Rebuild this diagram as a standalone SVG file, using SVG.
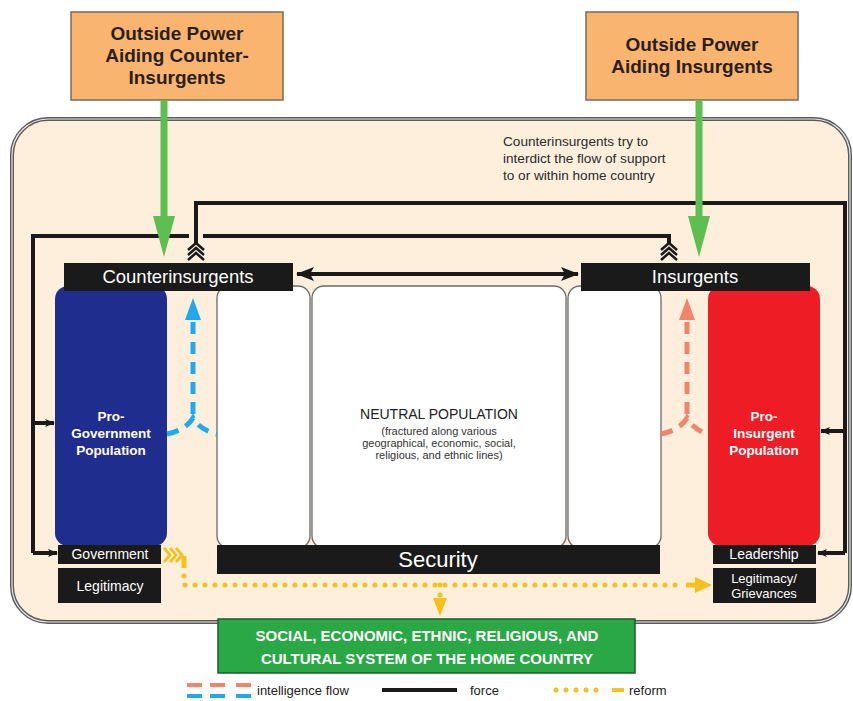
<svg xmlns="http://www.w3.org/2000/svg" width="853" height="701" viewBox="0 0 853 701">
<style>
text{font-family:"Liberation Sans",Arial,sans-serif}
.w{fill:#fff}
.blk{fill:#1a1a1a}
.force{fill:none;stroke:#1a1a1a;stroke-width:4}
.chev{fill:none;stroke:#1a1a1a;stroke-width:2.5}
.ylw{fill:none;stroke:#f5c21b;stroke-width:5;stroke-linecap:round;stroke-dasharray:0 10}
.col{fill:#fff;stroke:#6b6b6b;stroke-width:1.3}
.blue{fill:none;stroke:#1fa9ee;stroke-width:5;stroke-dasharray:12 8}
.sal{fill:none;stroke:#f2846a;stroke-width:5;stroke-dasharray:12 8}
.ob{fill:#f9b470;stroke:#7d6a58;stroke-width:1.5}
.obt{font-size:19px;font-weight:bold;fill:#2a1f1a;text-anchor:middle}
</style>
<defs>
<marker id="ah" markerWidth="10" markerHeight="8" refX="9" refY="4" orient="auto" markerUnits="userSpaceOnUse">
<path d="M0,0 L10,4 L0,8 L2.5,4 Z" fill="#1a1a1a"/>
</marker>
<marker id="ahb" markerWidth="18" markerHeight="14" refX="17" refY="7" orient="auto-start-reverse" markerUnits="userSpaceOnUse">
<path d="M0,0 L18,7 L0,14 L4,7 Z" fill="#1a1a1a"/>
</marker>
</defs>

<rect x="0" y="0" width="853" height="701" fill="#fff"/>

<g id="frame">
<rect x="12" y="119" width="838" height="503" rx="36" fill="#fdefdc" stroke="#5a5a5a" stroke-width="4"/>
<rect x="12" y="119" width="838" height="503" rx="36" fill="none" stroke="#e8e8e8" stroke-width="1.2"/>
</g>

<g id="outside-counter">
<rect class="ob" x="71" y="12" width="212" height="88"/>
<text class="obt" x="177" y="40">Outside Power</text>
<text class="obt" x="177" y="62">Aiding Counter-</text>
<text class="obt" x="177" y="84">Insurgents</text>
</g>

<g id="outside-insurgents">
<rect class="ob" x="586" y="12" width="212" height="88"/>
<text class="obt" x="692" y="51">Outside Power</text>
<text class="obt" x="692" y="73">Aiding Insurgents</text>
</g>

<g id="note">
<text x="503" y="146" font-size="13.6" fill="#2b2b2b">Counterinsurgents try to</text>
<text x="503" y="163" font-size="13.6" fill="#2b2b2b">interdict the flow of support</text>
<text x="503" y="180" font-size="13.6" fill="#2b2b2b">to or within home country</text>
</g>

<g id="neutral">
<rect class="col" x="217" y="286" width="93" height="262" rx="12"/>
<rect class="col" x="312" y="286" width="254" height="262" rx="12"/>
<rect class="col" x="568" y="286" width="93" height="262" rx="12"/>
<text x="439" y="419" font-size="14" fill="#222" text-anchor="middle">NEUTRAL POPULATION</text>
<text x="439" y="435" font-size="11" fill="#333" text-anchor="middle">(fractured along various</text>
<text x="439" y="447" font-size="11" fill="#333" text-anchor="middle">geographical, economic, social,</text>
<text x="439" y="459" font-size="11" fill="#333" text-anchor="middle">religious, and ethnic lines)</text>
</g>

<g id="security">
<rect class="blk" x="217" y="545" width="443" height="29"/>
<text x="438" y="567" font-size="22" class="w" text-anchor="middle">Security</text>
</g>

<g id="pro-government">
<rect x="55" y="286" width="112" height="260" rx="13" fill="#1f2d8e"/>
<text x="111" y="421" font-size="13.5" font-weight="bold" class="w" text-anchor="middle">Pro-</text>
<text x="111" y="438" font-size="13.5" font-weight="bold" class="w" text-anchor="middle">Government</text>
<text x="111" y="455" font-size="13.5" font-weight="bold" class="w" text-anchor="middle">Population</text>
</g>

<g id="government">
<rect class="blk" x="58" y="545" width="103" height="19"/>
<text x="110" y="559" font-size="14" class="w" text-anchor="middle">Government</text>
</g>
<g id="legitimacy">
<rect class="blk" x="58" y="568" width="103" height="35"/>
<text x="110" y="591" font-size="14" class="w" text-anchor="middle">Legitimacy</text>
</g>

<g id="pro-insurgent">
<rect x="708" y="286" width="112" height="260" rx="13" fill="#ee1c25"/>
<text x="764" y="421" font-size="13.5" font-weight="bold" class="w" text-anchor="middle">Pro-</text>
<text x="764" y="438" font-size="13.5" font-weight="bold" class="w" text-anchor="middle">Insurgent</text>
<text x="764" y="455" font-size="13.5" font-weight="bold" class="w" text-anchor="middle">Population</text>
</g>

<g id="leadership">
<rect class="blk" x="713" y="545" width="103" height="19"/>
<text x="764" y="559" font-size="14" class="w" text-anchor="middle">Leadership</text>
</g>
<g id="grievances">
<rect class="blk" x="713" y="568" width="103" height="35"/>
<text x="764" y="583" font-size="13" class="w" text-anchor="middle">Legitimacy/</text>
<text x="764" y="598" font-size="13" class="w" text-anchor="middle">Grievances</text>
</g>

<g id="counterinsurgents">
<rect class="blk" x="64" y="263" width="229" height="28"/>
<text x="178" y="283" font-size="18.5" class="w" text-anchor="middle">Counterinsurgents</text>
</g>
<g id="insurgents">
<rect class="blk" x="581" y="263" width="229" height="28"/>
<text x="695" y="283" font-size="18.5" class="w" text-anchor="middle">Insurgents</text>
</g>

<g id="home-country">
<rect x="218" y="619" width="417" height="54" fill="#29a845" stroke="#1d5c2c" stroke-width="1.5"/>
<text x="427" y="641" font-size="15" font-weight="bold" class="w" text-anchor="middle">SOCIAL, ECONOMIC, ETHNIC, RELIGIOUS, AND</text>
<text x="427" y="664" font-size="15" font-weight="bold" class="w" text-anchor="middle">CULTURAL SYSTEM OF THE HOME COUNTRY</text>
</g>

<g id="connectors">
<path class="force" d="M669,243 V236 H203 M189,236 H33 V553" />
<line class="force" x1="33" y1="423" x2="54" y2="423" marker-end="url(#ah)"/>
<line class="force" x1="33" y1="553" x2="57" y2="553" marker-end="url(#ah)"/>
<g transform="translate(669,0)">
<polyline class="chev" points="-8,250 0,243 8,250"/>
<polyline class="chev" points="-8,255 0,248 8,255"/>
<polyline class="chev" points="-8,260 0,253 8,260"/>
</g>
<path class="force" d="M196,243 V203 H845 V553" />
<line class="force" x1="845" y1="431" x2="821" y2="431" marker-end="url(#ah)"/>
<line class="force" x1="845" y1="553" x2="818" y2="553" marker-end="url(#ah)"/>
<g transform="translate(196,0)">
<polyline class="chev" points="-8,250 0,243 8,250"/>
<polyline class="chev" points="-8,255 0,248 8,255"/>
<polyline class="chev" points="-8,260 0,253 8,260"/>
</g>
<line x1="297" y1="274" x2="578" y2="274" stroke="#1a1a1a" stroke-width="4" marker-start="url(#ahb)" marker-end="url(#ahb)"/>

<line x1="164" y1="100" x2="164" y2="222" stroke="#5cbf50" stroke-width="7"/>
<polygon points="153,216 175,216 164,257" fill="#5cbf50"/>
<line x1="699" y1="100" x2="699" y2="222" stroke="#5cbf50" stroke-width="7"/>
<polygon points="688,216 710,216 699,257" fill="#5cbf50"/>

<path class="blue" d="M193,414 V318"/>
<polygon points="185,320 201,320 193,298" fill="#1fa9ee"/>
<path class="blue" d="M167,434 Q186,430 193,418 Q200,430 217,434" stroke-dasharray="14 5"/>
<path class="sal" d="M687,414 V318"/>
<polygon points="679,320 695,320 687,298" fill="#f2846a"/>
<path class="sal" d="M661,434 Q680,430 687,418 Q694,430 708,434" stroke-dasharray="14 5"/>

<g fill="none" stroke="#f5c21b" stroke-width="2.8">
<polyline points="164,548 170,555 164,562"/>
<polyline points="170,548 176,555 170,562"/>
<polyline points="176,548 182,555 176,562"/>
</g>
<line x1="184" y1="556" x2="184" y2="568" stroke="#f5c21b" stroke-width="5"/>
<path class="ylw" d="M184,576 V585 H684"/>
<line x1="686" y1="585" x2="698" y2="585" stroke="#f5c21b" stroke-width="5"/>
<polygon points="695,577 712,585 695,593" fill="#f5c21b"/>
<path class="ylw" d="M440,585 V596"/>
<polygon points="433,598 447,598 440,616" fill="#f5c21b"/>
</g>

<g id="legend">
<rect x="187" y="683" width="15" height="4" fill="#f2846a"/>
<rect x="210" y="683" width="15" height="4" fill="#f2846a"/>
<rect x="236" y="683" width="15" height="4" fill="#f2846a"/>
<rect x="187" y="694" width="15" height="4" fill="#1fa9ee"/>
<rect x="210" y="694" width="15" height="4" fill="#1fa9ee"/>
<rect x="236" y="694" width="15" height="4" fill="#1fa9ee"/>
<text x="257" y="695" font-size="13" fill="#222">intelligence flow</text>
<line x1="382" y1="690" x2="457" y2="690" stroke="#1a1a1a" stroke-width="4"/>
<text x="470" y="695" font-size="13" fill="#222">force</text>
<path class="ylw" d="M556,690 H606" stroke-width="4"/>
<line x1="612" y1="690" x2="624" y2="690" stroke="#f5c21b" stroke-width="4"/>
<text x="629" y="695" font-size="13" fill="#222">reform</text>
</g>
</svg>
